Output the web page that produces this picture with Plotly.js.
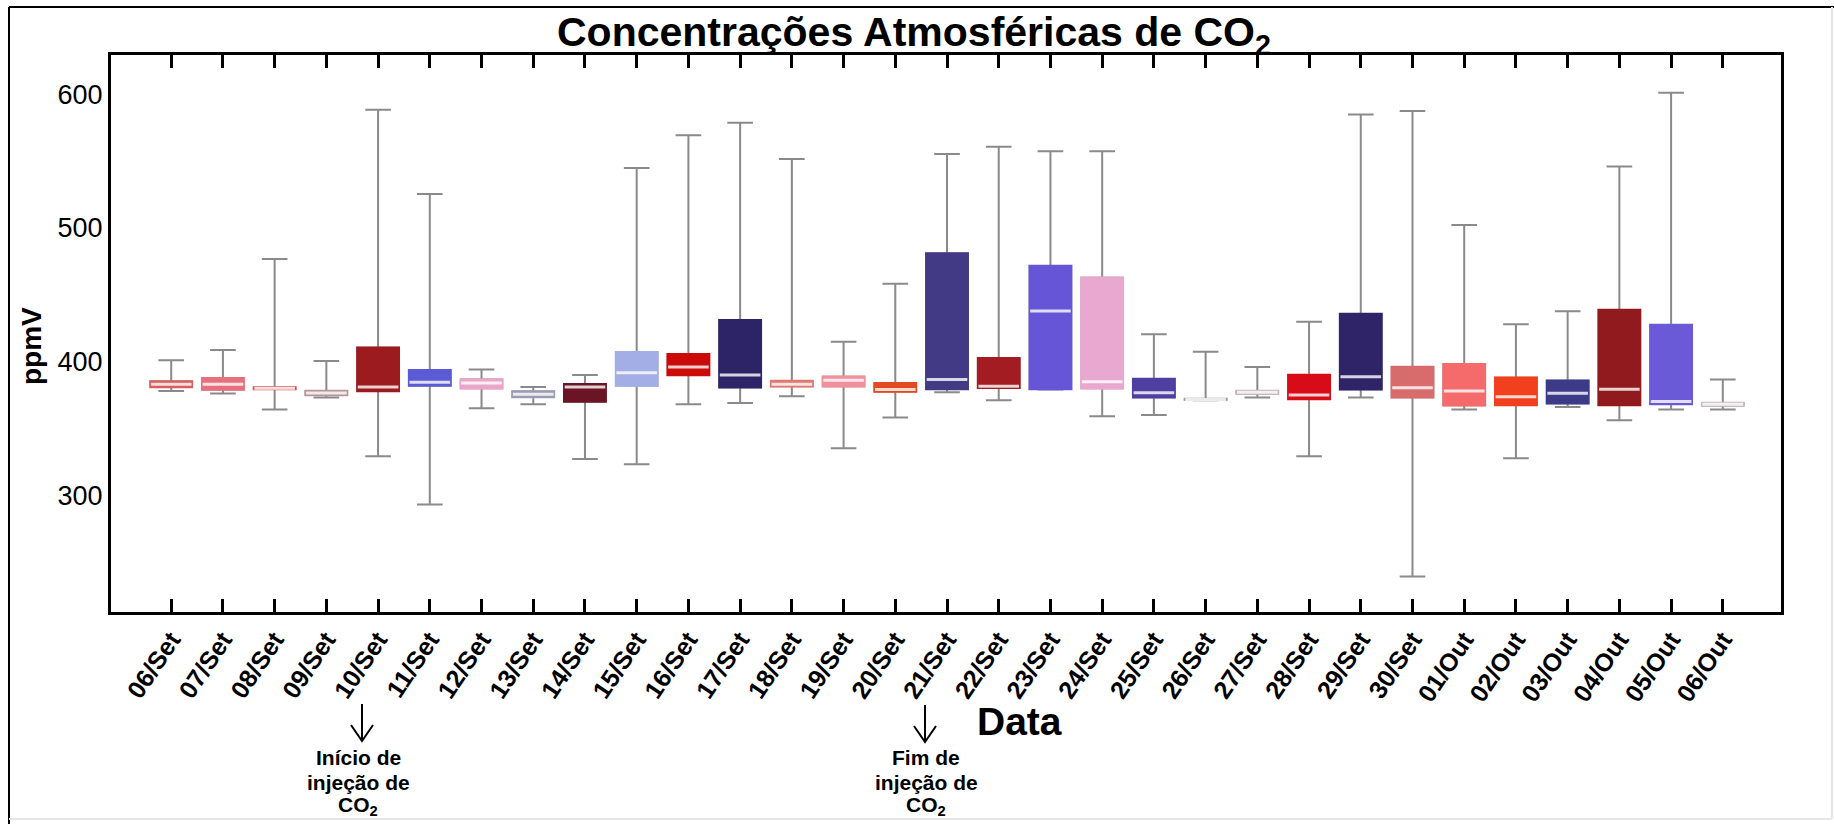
<!DOCTYPE html>
<html>
<head>
<meta charset="utf-8">
<script src="https://cdn.plot.ly/plotly-3.0.1.min.js"></script>
<style>
  html, body { margin: 0; padding: 0; background: #ffffff; }
  #chart { width: 1834px; height: 824px; }
</style>
</head>
<body>
<div id="chart"></div>
<script>
// ---- data (ppmV) ----
const dates = ['06/Set','07/Set','08/Set','09/Set','10/Set','11/Set','12/Set','13/Set','14/Set','15/Set',
               '16/Set','17/Set','18/Set','19/Set','20/Set','21/Set','22/Set','23/Set','24/Set','25/Set',
               '26/Set','27/Set','28/Set','29/Set','30/Set','01/Out','02/Out','03/Out','04/Out','05/Out','06/Out'];
const minimo  = [378, 376, 364, 373, 329, 293, 365, 368, 327, 323,
                 368, 369, 374, 335, 358, 377, 371, 379, 359, 360,
                 371, 373, 329, 373, 239, 364, 327.5, 366, 356, 364, 364];
const quartil1 = [381, 379, 379.5, 375, 378, 382, 380, 373.5, 370, 382,
                  390, 380.7, 381.5, 381.5, 377.5, 379.4, 380.4, 379.4, 380, 373.2,
                  371.5, 376, 372, 379.2, 373.2, 367.2, 367.4, 368.7, 367.4, 368.2, 367];
const mediana = [383, 383, 380, 376.5, 381, 384.5, 384, 375.5, 381, 391.6,
                 396, 390, 383, 386, 379, 386.6, 381.5, 437.8, 384.8, 376.6,
                 371.5, 377, 374.9, 388.6, 380.4, 378, 373.6, 376.2, 379.2, 370, 368];
const quartil3 = [385, 387.5, 380.5, 378, 410.3, 393.5, 386.5, 377.5, 383, 406.9,
                  405.4, 431, 385.4, 388.6, 383.7, 481, 402.4, 471.5, 462.8, 386.9,
                  372, 378, 389.9, 435.6, 396, 397.9, 387.9, 385.6, 438.6, 427.3, 369];
const maximo  = [401, 408.6, 476.8, 400.4, 588.5, 525.5, 394, 381, 390, 545,
                 569.5, 578.8, 551.7, 414.8, 458.3, 555.4, 560.9, 557.6, 557.6, 420.5,
                 407.3, 396, 429.8, 585, 587.7, 502.2, 428, 437.6, 546, 601.4, 386.6];

// ---- styles ----
const boxColors = ['#d95f5e','#e8707e','#d9534f','#b8949c','#9b1b1e','#5b5bd6','#eaa6c8','#9c9cb4','#6b1426','#a4aee6',
                   '#cc0a0a','#2d2468','#e07a70','#f0909a','#e24a22','#433a85','#a21c22','#6655d6','#e9a8d0','#4e3fa0',
                   '#9a9a9a','#c4b4bc','#d80c18','#2f2468','#d86c6c','#f56b6b','#f2401e','#3d3a8a','#901a1e','#6a5ad8','#c8b8c0'];

function lighten(hex, f) {
  const n = parseInt(hex.slice(1), 16);
  const r = (n >> 16) & 255, g = (n >> 8) & 255, b = n & 255;
  const m = c => Math.round(c + (255 - c) * f);
  return 'rgb(' + m(r) + ',' + m(g) + ',' + m(b) + ')';
}

// plot-area geometry in pixels
const W = 1834, H = 824;
const L = 111, R = 1781, T = 55, B = 612;
const px = x => (x - L) / (R - L);
const py = y => (B - y) / (B - T);

const traces = [];
// whiskers (gray)
traces.push({
  type: 'box', x: dates, q1: quartil1, median: mediana, q3: quartil3,
  lowerfence: minimo, upperfence: maximo,
  width: 0.8, whiskerwidth: 0.62,
  fillcolor: 'rgba(0,0,0,0)',
  line: { color: '#8a8a8a', width: 2 },
  boxpoints: false, hoverinfo: 'skip', showlegend: false
});
// coloured boxes
dates.forEach((d, i) => {
  traces.push({
    type: 'box', x: [d], q1: [quartil1[i]], median: [mediana[i]], q3: [quartil3[i]],
    lowerfence: [quartil1[i]], upperfence: [quartil3[i]],
    width: 0.8, whiskerwidth: 0,
    fillcolor: boxColors[i],
    line: { color: boxColors[i], width: 2.5 },
    boxpoints: false, hoverinfo: 'skip', showlegend: false
  });
});
// medians
traces.push({
  type: 'scatter', mode: 'markers', x: dates, y: mediana,
  marker: { symbol: 'line-ew', size: 29, color: boxColors.map(c => lighten(c, 0.8)),
            line: { width: 3, color: boxColors.map(c => lighten(c, 0.8)) } },
  hoverinfo: 'skip', showlegend: false
});

function arrowPath(xc, y0, y1) {
  return 'M' + px(xc) + ',' + py(y0) + ' L' + px(xc) + ',' + py(y1) +
         ' M' + px(xc - 11) + ',' + py(y1 - 16) + ' L' + px(xc) + ',' + py(y1) +
         ' L' + px(xc + 11) + ',' + py(y1 - 16);
}

function noteLines(xc, lines, baselines) {
  return lines.map((t, k) => ({
    xref: 'paper', yref: 'paper', x: px(xc), y: py(baselines[k] - 7),
    text: t, showarrow: false, xanchor: 'center', yanchor: 'middle',
    font: { size: 21, weight: 'bold', color: '#000000' }
  }));
}
const noteBase = [764, 789, 813];

const layout = {
  width: W, height: H,
  margin: { l: L, r: W - R, t: T, b: H - B, pad: 0 },
  paper_bgcolor: '#ffffff', plot_bgcolor: '#ffffff',
  boxmode: 'overlay',
  showlegend: false,
  font: { family: 'Liberation Sans, Arial, sans-serif', color: '#000000' },
  title: {
    text: 'Concentrações Atmosféricas de CO<sub>2</sub>',
    font: { size: 41, weight: 'bold', color: '#000000', family: 'Liberation Sans, Arial, sans-serif' },
    xref: 'container', x: 914 / W, xanchor: 'center',
    yref: 'container', y: 1 - 32 / H, yanchor: 'middle'
  },
  xaxis: {
    type: 'category', categoryorder: 'array', categoryarray: dates,
    range: [-1.164, 31.125],
    showline: true, linecolor: '#000000', linewidth: 3, mirror: 'ticks',
    ticks: 'inside', ticklen: 13, tickwidth: 3, tickcolor: '#000000',
    tickangle: -56,
    tickfont: { size: 25, weight: 'bold', color: '#000000' },
    showgrid: false, zeroline: false, fixedrange: true
  },
  yaxis: {
    range: [212.4, 629.6],
    tickvals: [300, 400, 500, 600],
    showline: true, linecolor: '#000000', linewidth: 3, mirror: true,
    ticks: '', tickfont: { size: 27, color: '#000000' },
    showgrid: false, zeroline: false, fixedrange: true
  },
  annotations: [
    { xref: 'paper', yref: 'paper', x: px(31), y: py(346), text: 'ppmV', textangle: -90,
      showarrow: false, xanchor: 'center', yanchor: 'middle',
      font: { size: 28, weight: 'bold', color: '#000000' } },
    { xref: 'paper', yref: 'paper', x: px(1020), y: py(721), text: 'Data',
      showarrow: false, xanchor: 'center', yanchor: 'middle',
      font: { size: 39, weight: 'bold', color: '#000000' } }
  ].concat(noteLines(358, ['Início de', 'injeção de', 'CO<sub>2</sub>'], noteBase))
   .concat(noteLines(926, ['Fim de', 'injeção de', 'CO<sub>2</sub>'], noteBase)),
  shapes: [
    { type: 'path', xref: 'paper', yref: 'paper', path: arrowPath(362, 704, 741),
      line: { color: '#000000', width: 2 } },
    { type: 'path', xref: 'paper', yref: 'paper', path: arrowPath(925, 705, 742),
      line: { color: '#000000', width: 2 } },
    // outer picture frame
    { type: 'line', xref: 'paper', yref: 'paper', x0: px(9), x1: px(9), y0: py(7), y1: py(824),
      line: { color: '#000000', width: 2 } },
    { type: 'line', xref: 'paper', yref: 'paper', x0: px(9), x1: px(1834), y0: py(7), y1: py(7),
      line: { color: '#000000', width: 2 } },
    { type: 'line', xref: 'paper', yref: 'paper', x0: px(1832), x1: px(1832), y0: py(7), y1: py(819),
      line: { color: '#e6e6e6', width: 2 } },
    { type: 'line', xref: 'paper', yref: 'paper', x0: px(9), x1: px(1832), y0: py(819), y1: py(819),
      line: { color: '#e6e6e6', width: 2 } }
  ]
};

Plotly.newPlot('chart', traces, layout, { staticPlot: true, displayModeBar: false });
</script>
</body>
</html>
